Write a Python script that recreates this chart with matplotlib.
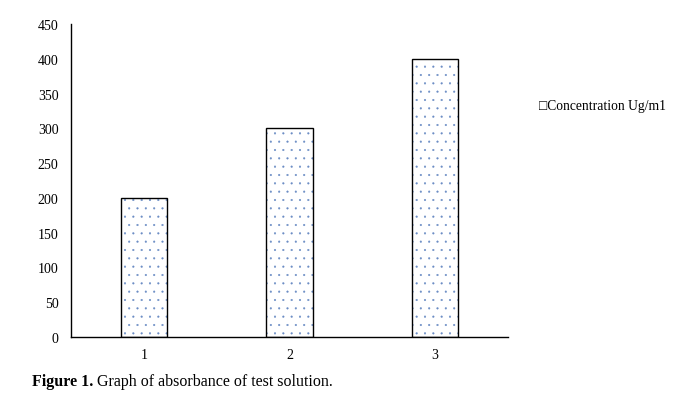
import matplotlib
matplotlib.use("Agg")
import matplotlib.pyplot as plt

categories = ["1", "2", "3"]
values = [200, 300, 400]
yticks = [0, 50, 100, 150, 200, 250, 300, 350, 400, 450]
legend_label = "Concentration Ug/m1"

plt.rcParams['font.family'] = ['Liberation Serif', 'DejaVu Serif']
plt.rcParams['hatch.linewidth'] = 0.3

fig = plt.figure(figsize=(6.76, 4.02), dpi=100)
ax = fig.add_axes([0.105, 0.159, 0.6465, 0.779])

x = list(range(1, len(categories) + 1))
ax.bar(x, values, width=0.316, color='white', edgecolor='#6a8cc4', hatch='..', linewidth=0)
ax.bar(x, values, width=0.316, fill=False, edgecolor='black', linewidth=1.0)

ax.set_xlim(0.5, len(categories) + 0.5)
ax.set_ylim(0, 450)
ax.set_yticks(yticks)
ax.set_xticks(x)
ax.set_xticklabels(categories)
ax.tick_params(length=0, labelsize=10, pad=8)
ax.tick_params(axis='y', pad=9)
for s in ['top', 'right']:
    ax.spines[s].set_visible(False)
for s in ['left', 'bottom']:
    ax.spines[s].set_linewidth(1.0)

fig.text(0.797, 0.735, "\u25a1" + legend_label, fontsize=9.8, va='center', ha='left')

t1 = fig.text(0.047, 0.040, "Figure 1.", fontsize=11.5, fontweight='bold', ha='left', va='baseline')
ax.annotate(" Graph of absorbance of test solution.", xy=(1, 0), xycoords=t1,
            fontsize=11.5, ha='left', va='bottom', annotation_clip=False)

fig.savefig("out.png", dpi=100)
